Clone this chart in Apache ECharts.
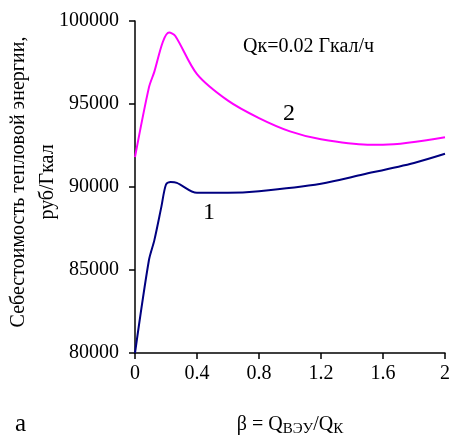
<!DOCTYPE html>
<html>
<head>
<meta charset="utf-8">
<script src="https://cdn.jsdelivr.net/npm/echarts@6/dist/echarts.min.js"></script>
<style>
html,body{margin:0;padding:0;background:#fff;}
#c{width:450px;height:439px;}
</style>
</head>
<body>
<div id="c"></div>
<script>
// Curve 1 (navy)
var beta1 = [0, 0.09, 0.125, 0.17, 0.2, 0.23, 0.27, 0.4, 0.6, 0.8, 1.2, 1.47, 1.8, 2.0];
var cost1 = [80000, 85600, 86800, 88800, 90150, 90300, 90250, 89650, 89650, 89750, 90200, 90750, 91450, 92000];
// Curve 2 (magenta)
var beta2 = [0, 0.09, 0.125, 0.18, 0.22, 0.26, 0.4, 0.6, 0.8, 1.0, 1.2, 1.5, 1.6, 2.0];
var cost2 = [91800, 96000, 96950, 98750, 99300, 99100, 96800, 95200, 94150, 93350, 92870, 92550, 92550, 93000];
var xTickLabels = ['0', '0.4', '0.8', '1.2', '1.6', '2'];
var yTickLabels = ['80000', '85000', '90000', '95000', '100000'];
var curveNames = ['1', '2'];
var noteText = 'Qк=0.02 Гкал/ч';
var yTitle = 'Себестоимость тепловой энергии,\nруб/Гкал';

function pairs(xs, ys) { return xs.map(function (x, i) { return [x, ys[i]]; }); }

var FONT = '"Liberation Serif", "DejaVu Serif", serif';
var chart = echarts.init(document.getElementById('c'), null, {renderer: 'canvas'});
chart.setOption({
  animation: false,
  backgroundColor: '#fff',
  grid: {left: 135, right: 5, top: 21, bottom: 86, containLabel: false, outerBoundsMode: 'none'},
  xAxis: {
    type: 'value', min: 0, max: 2, interval: 0.4,
    axisLine: {show: true, lineStyle: {color: '#000', width: 1.5}},
    axisTick: {show: true, inside: false, length: 6, lineStyle: {color: '#000', width: 1.5}},
    splitLine: {show: false},
    axisLabel: {
      margin: 11, color: '#000', fontFamily: FONT, fontSize: 20,
      formatter: function (v) { return xTickLabels[Math.round(v / 0.4)]; }
    },
    name: 'β = Q{sub|ВЭУ}/Q{sub|К}',
    nameLocation: 'middle', nameGap: 60,
    nameTextStyle: {
      color: '#000', fontFamily: FONT, fontSize: 20,
      rich: {sub: {fontFamily: FONT, fontSize: 15, color: '#000', verticalAlign: 'bottom', padding: [9, 0, 0, 0]}}
    }
  },
  yAxis: {
    type: 'value', min: 80000, max: 100000, interval: 5000,
    axisLine: {show: true, lineStyle: {color: '#000', width: 1.5}},
    axisTick: {show: true, inside: false, length: 6, lineStyle: {color: '#000', width: 1.5}},
    splitLine: {show: false},
    axisLabel: {
      margin: 16, color: '#000', fontFamily: FONT, fontSize: 20,
      formatter: function (v) { return yTickLabels[Math.round((v - 80000) / 5000)]; }
    }
  },
  series: [
    {type: 'line', name: curveNames[0], data: pairs(beta1, cost1), smooth: 0.3, showSymbol: false,
     lineStyle: {color: '#000080', width: 2}, itemStyle: {color: '#000080'}},
    {type: 'line', name: curveNames[1], data: pairs(beta2, cost2), smooth: 0.3, showSymbol: false,
     lineStyle: {color: '#FF00FF', width: 2}, itemStyle: {color: '#FF00FF'}}
  ],
  graphic: [
    {type: 'text', x: 33, y: 182, rotation: Math.PI / 2,
     style: {text: yTitle, font: '20px ' + FONT, fill: '#000', align: 'center', verticalAlign: 'middle', lineHeight: 29}},
    {type: 'text', left: 243, top: 37, style: {text: noteText, font: '20px ' + FONT, fill: '#000'}},
    {type: 'text', left: 283, top: 102, style: {text: curveNames[1], font: '24px ' + FONT, fill: '#000'}},
    {type: 'text', left: 203, top: 201, style: {text: curveNames[0], font: '24px ' + FONT, fill: '#000'}},
    {type: 'text', left: 15, top: 412, style: {text: 'а', font: '25px ' + FONT, fill: '#000'}}
  ]
});
</script>
</body>
</html>
